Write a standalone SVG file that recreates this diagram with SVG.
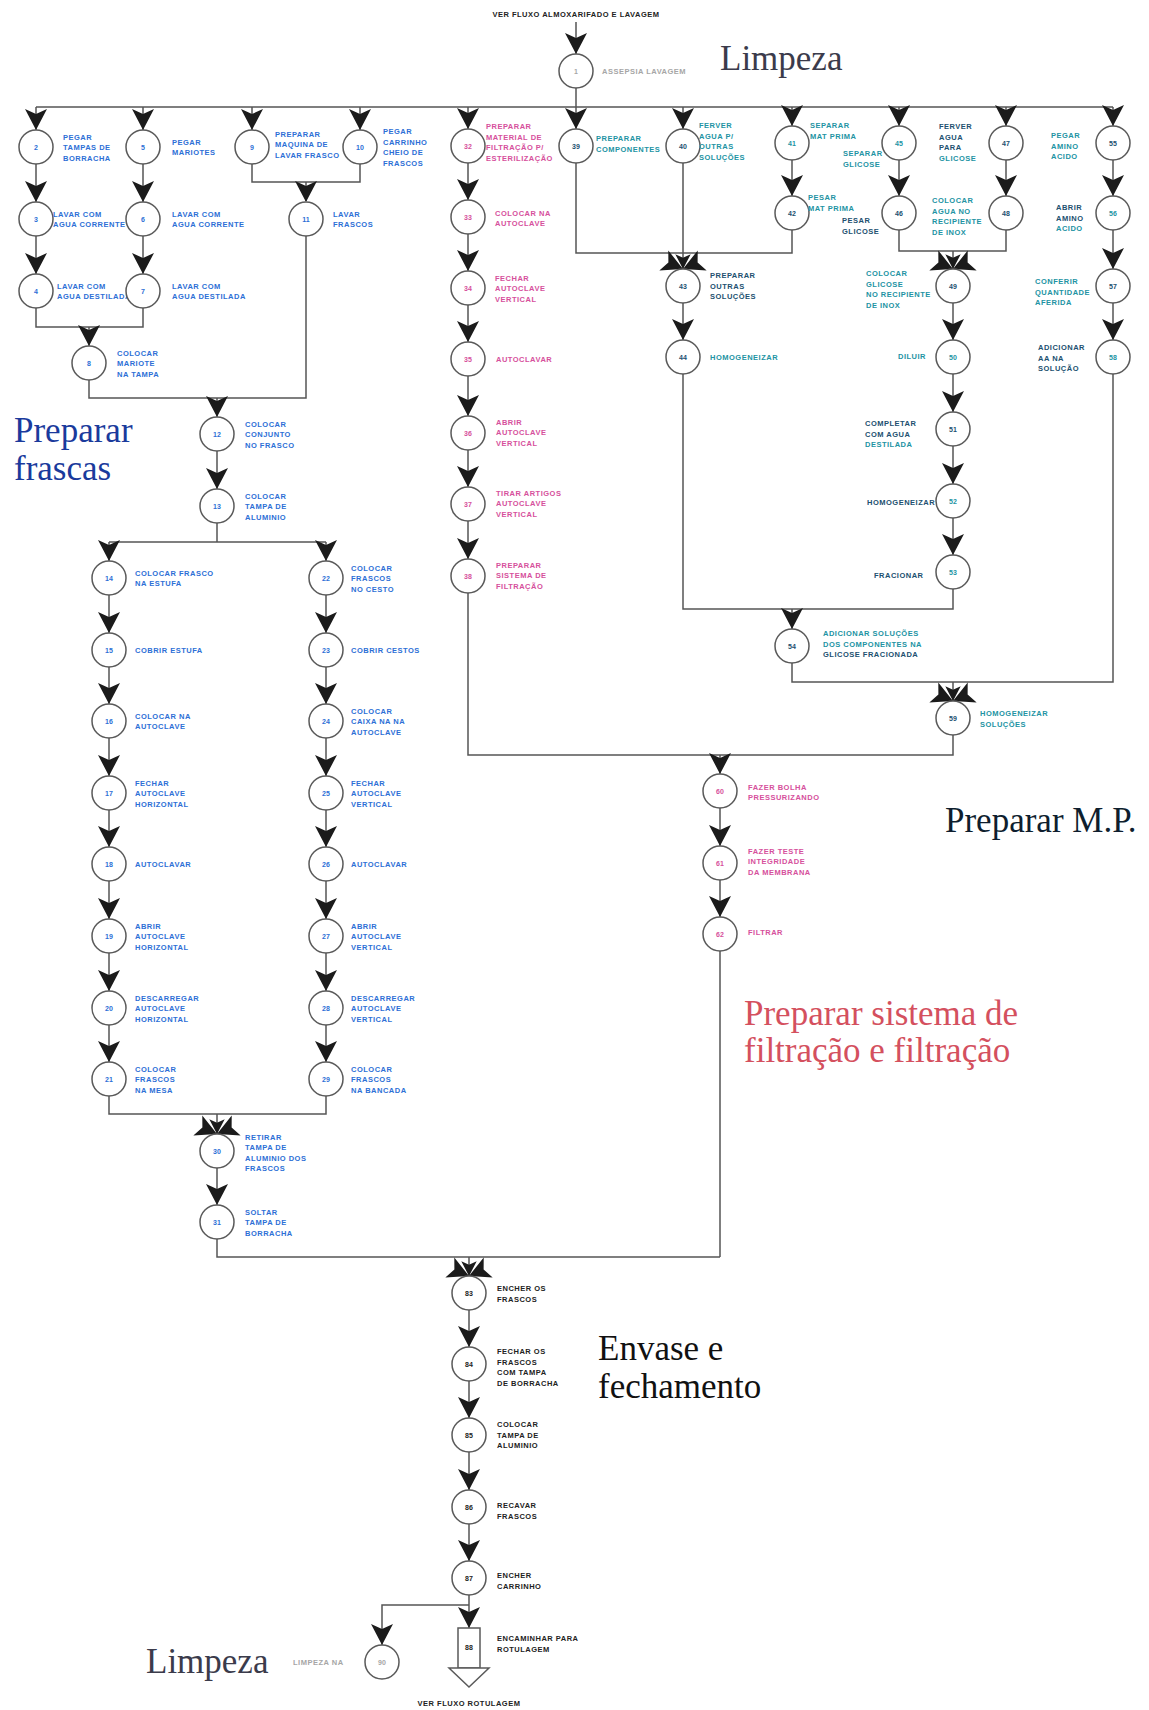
<svg xmlns="http://www.w3.org/2000/svg" xmlns:xlink="http://www.w3.org/1999/xlink" width="1149" height="1710" viewBox="0 0 1149 1710">
<style>
  .ln { fill: none; stroke: #565656; stroke-width: 1.5; }
  .nodes circle, .nodes rect, .nodes polygon { fill: #fff; stroke: #5a5a5a; stroke-width: 1.5; }
  .lb { font-family: "Liberation Sans", Arial, sans-serif; font-size: 7.5px; font-weight: bold; letter-spacing: 0.5px; }
  .num { font-family: "Liberation Sans", Arial, sans-serif; font-size: 7px; font-weight: bold; text-anchor: middle; }
  .ttl { font-family: "Liberation Serif", "Times New Roman", serif; font-size: 35px; }
  .b { fill: #2d6fd6; }
  .p { fill: #d6509c; }
  .t { fill: #2293a3; }
  .n { fill: #21506f; }
  .k { fill: #222; }
  .g { fill: #a6a6a6; }
</style>
<defs>
  <path id="ah" d="M0,0 L-11,-21 L0,-16 L11,-21 Z" fill="#1b1b1b"/>
  <!-- merge arrow: heads converging on one node -->
  <g id="bow">
    <use xlink:href="#ah" transform="rotate(-66)"/>
    <use xlink:href="#ah" transform="rotate(66)"/>
    <use xlink:href="#ah" transform="scale(0.7)"/>
  </g>
</defs>
<rect width="1149" height="1710" fill="#fff"/>

<!-- section titles -->
<g id="titles">
  <text class="ttl" x="720" y="70" fill="#3b3b4b">Limpeza</text>
  <text class="ttl" x="14" y="442" fill="#1a3a9c">Preparar</text>
  <text class="ttl" x="14" y="480" fill="#1a3a9c">frascas</text>
  <text class="ttl" x="945" y="832" fill="#0e1e2e">Preparar M.P.</text>
  <text class="ttl" x="744" y="1025" fill="#d4505e">Preparar sistema de</text>
  <text class="ttl" x="744" y="1062" fill="#d4505e">filtração e filtração</text>
  <text class="ttl" x="598" y="1360" fill="#111">Envase e</text>
  <text class="ttl" x="598" y="1398" fill="#111">fechamento</text>
  <text class="ttl" x="146" y="1673" fill="#3b3b4b">Limpeza</text>
  <text class="lb k" x="576" y="17" text-anchor="middle">VER FLUXO ALMOXARIFADO E LAVAGEM</text>
  <text class="lb k" x="469" y="1706" text-anchor="middle">VER FLUXO ROTULAGEM</text>
</g>

<!-- connectors -->
<g id="connectors">
  <path class="ln" d="M576,22 V54 M576,88 V107 M36,107 H1113
    M36,107 V130 M143,107 V130 M252,107 V130 M360,107 V130 M468,107 V129 M576,107 V129 M683,107 V129
    M792,107 V126 M899,107 V126 M1006,107 V126 M1113,107 V126
    M36,164 V202 M36,236 V274 M143,164 V202 M143,236 V274
    M36,308 V327 H143 V308 M89,327 V346
    M252,164 V182 H360 V164 M306,182 V201
    M89,380 V398 H306 V236 M217,398 V417 M217,451 V489 M217,523 V542
    M109,542 H326 M109,542 V561 M326,542 V561
    M109,595 V1062 M326,595 V1062
    M109,1096 V1114 H326 V1096 M217,1114 V1134 M217,1168 V1205
    M217,1239 V1257 H720 M469,1257 V1276
    M469,1310 V1561 M469,1595 V1628 M469,1605 H382 V1645
    M468,163 V559 M468,593 V755 H953 V735 M720,755 V774
    M720,808 V846 M720,880 V917 M720,951 V1257
    M576,163 V253 H792 V230 M683,163 V269 M683,303 V340
    M683,374 V609 H953 V589 M792,609 V629
    M792,663 V682 H1113 V374 M953,682 V701
    M792,160 V196 M899,160 V196 M899,230 V251 H1006 V229 M1006,160 V196 M953,251 V269
    M953,303 V555 M1113,160 V340"/>
  <!-- arrowheads -->
  <use xlink:href="#ah" x="576" y="54"/>
  <use xlink:href="#ah" x="36" y="130"/><use xlink:href="#ah" x="143" y="130"/><use xlink:href="#ah" x="252" y="130"/><use xlink:href="#ah" x="360" y="130"/>
  <use xlink:href="#ah" x="468" y="129"/><use xlink:href="#ah" x="576" y="129"/><use xlink:href="#ah" x="683" y="129"/>
  <use xlink:href="#ah" x="792" y="126"/><use xlink:href="#ah" x="899" y="126"/><use xlink:href="#ah" x="1006" y="126"/><use xlink:href="#ah" x="1113" y="126"/>
  <use xlink:href="#ah" x="36" y="202"/><use xlink:href="#ah" x="36" y="274"/><use xlink:href="#ah" x="143" y="202"/><use xlink:href="#ah" x="143" y="274"/>
  <use xlink:href="#ah" x="89" y="346"/><use xlink:href="#ah" x="306" y="202"/><use xlink:href="#ah" x="217" y="417"/><use xlink:href="#ah" x="217" y="489"/>
  <use xlink:href="#ah" x="109" y="561"/><use xlink:href="#ah" x="326" y="561"/>
  <use xlink:href="#ah" x="109" y="633"/><use xlink:href="#ah" x="109" y="704"/><use xlink:href="#ah" x="109" y="776"/><use xlink:href="#ah" x="109" y="847"/>
  <use xlink:href="#ah" x="109" y="919"/><use xlink:href="#ah" x="109" y="991"/><use xlink:href="#ah" x="109" y="1062"/>
  <use xlink:href="#ah" x="326" y="633"/><use xlink:href="#ah" x="326" y="704"/><use xlink:href="#ah" x="326" y="776"/><use xlink:href="#ah" x="326" y="847"/>
  <use xlink:href="#ah" x="326" y="919"/><use xlink:href="#ah" x="326" y="991"/><use xlink:href="#ah" x="326" y="1062"/>
  <use xlink:href="#bow" transform="translate(217,1134)"/>
  <use xlink:href="#ah" x="217" y="1205"/>
  <use xlink:href="#bow" transform="translate(469,1276)"/>
  <use xlink:href="#ah" x="469" y="1347"/><use xlink:href="#ah" x="469" y="1418"/><use xlink:href="#ah" x="469" y="1490"/><use xlink:href="#ah" x="469" y="1561"/>
  <use xlink:href="#ah" x="469" y="1628"/><use xlink:href="#ah" x="382" y="1645"/>
  <use xlink:href="#ah" x="468" y="200"/><use xlink:href="#ah" x="468" y="271"/><use xlink:href="#ah" x="468" y="342"/><use xlink:href="#ah" x="468" y="416"/>
  <use xlink:href="#ah" x="468" y="487"/><use xlink:href="#ah" x="468" y="559"/>
  <use xlink:href="#ah" x="720" y="774"/><use xlink:href="#ah" x="720" y="846"/><use xlink:href="#ah" x="720" y="917"/>
  <use xlink:href="#ah" x="792" y="196"/><use xlink:href="#ah" x="899" y="196"/><use xlink:href="#ah" x="1006" y="196"/>
  <use xlink:href="#bow" transform="translate(683,269)"/>
  <use xlink:href="#ah" x="683" y="340"/>
  <use xlink:href="#bow" transform="translate(953,269)"/>
  <use xlink:href="#ah" x="953" y="340"/><use xlink:href="#ah" x="953" y="412"/><use xlink:href="#ah" x="953" y="484"/><use xlink:href="#ah" x="953" y="555"/>
  <use xlink:href="#ah" x="792" y="629"/>
  <use xlink:href="#bow" transform="translate(953,701)"/>
  <use xlink:href="#ah" x="1113" y="196"/><use xlink:href="#ah" x="1113" y="269"/><use xlink:href="#ah" x="1113" y="340"/>
</g>

<g class="nodes">
  <!-- cleaning start -->
  <g id="n1"><circle cx="576" cy="71" r="17"/><text class="num g" x="576" y="73.5">1</text><text class="lb g" x="602" y="74">ASSEPSIA LAVAGEM</text></g>

  <!-- bottle preparation -->
  <g id="n2"><circle cx="36" cy="147" r="17"/><text class="num b" x="36" y="149.5">2</text><text class="lb b" x="63" y="139.5"><tspan>PEGAR</tspan><tspan x="63" dy="10.5">TAMPAS DE</tspan><tspan x="63" dy="10.5">BORRACHA</tspan></text></g>
  <g id="n3"><circle cx="36" cy="219" r="17"/><text class="num b" x="36" y="221.5">3</text><text class="lb b" x="53" y="216.75"><tspan>LAVAR COM</tspan><tspan x="53" dy="10.5">AGUA CORRENTE</tspan></text></g>
  <g id="n4"><circle cx="36" cy="291" r="17"/><text class="num b" x="36" y="293.5">4</text><text class="lb b" x="57" y="288.75"><tspan>LAVAR COM</tspan><tspan x="57" dy="10.5">AGUA DESTILADA</tspan></text></g>
  <g id="n5"><circle cx="143" cy="147" r="17"/><text class="num b" x="143" y="149.5">5</text><text class="lb b" x="172" y="144.75"><tspan>PEGAR</tspan><tspan x="172" dy="10.5">MARIOTES</tspan></text></g>
  <g id="n6"><circle cx="143" cy="219" r="17"/><text class="num b" x="143" y="221.5">6</text><text class="lb b" x="172" y="216.75"><tspan>LAVAR COM</tspan><tspan x="172" dy="10.5">AGUA CORRENTE</tspan></text></g>
  <g id="n7"><circle cx="143" cy="291" r="17"/><text class="num b" x="143" y="293.5">7</text><text class="lb b" x="172" y="288.75"><tspan>LAVAR COM</tspan><tspan x="172" dy="10.5">AGUA DESTILADA</tspan></text></g>
  <g id="n8"><circle cx="89" cy="363" r="17"/><text class="num b" x="89" y="365.5">8</text><text class="lb b" x="117" y="355.5"><tspan>COLOCAR</tspan><tspan x="117" dy="10.5">MARIOTE</tspan><tspan x="117" dy="10.5">NA TAMPA</tspan></text></g>
  <g id="n9"><circle cx="252" cy="147" r="17"/><text class="num b" x="252" y="149.5">9</text><text class="lb b" x="275" y="136.5"><tspan>PREPARAR</tspan><tspan x="275" dy="10.5">MAQUINA DE</tspan><tspan x="275" dy="10.5">LAVAR FRASCO</tspan></text></g>
  <g id="n10"><circle cx="360" cy="147" r="17"/><text class="num b" x="360" y="149.5">10</text><text class="lb b" x="383" y="134.25"><tspan>PEGAR</tspan><tspan x="383" dy="10.5">CARRINHO</tspan><tspan x="383" dy="10.5">CHEIO DE</tspan><tspan x="383" dy="10.5">FRASCOS</tspan></text></g>
  <g id="n11"><circle cx="306" cy="219" r="17"/><text class="num b" x="306" y="221.5">11</text><text class="lb b" x="333" y="216.75"><tspan>LAVAR</tspan><tspan x="333" dy="10.5">FRASCOS</tspan></text></g>
  <g id="n12"><circle cx="217" cy="434" r="17"/><text class="num b" x="217" y="436.5">12</text><text class="lb b" x="245" y="426.5"><tspan>COLOCAR</tspan><tspan x="245" dy="10.5">CONJUNTO</tspan><tspan x="245" dy="10.5">NO FRASCO</tspan></text></g>
  <g id="n13"><circle cx="217" cy="506" r="17"/><text class="num b" x="217" y="508.5">13</text><text class="lb b" x="245" y="498.5"><tspan>COLOCAR</tspan><tspan x="245" dy="10.5">TAMPA DE</tspan><tspan x="245" dy="10.5">ALUMINIO</tspan></text></g>

  <g id="n14"><circle cx="109" cy="578" r="17"/><text class="num b" x="109" y="580.5">14</text><text class="lb b" x="135" y="575.75"><tspan>COLOCAR FRASCO</tspan><tspan x="135" dy="10.5">NA ESTUFA</tspan></text></g>
  <g id="n15"><circle cx="109" cy="650" r="17"/><text class="num b" x="109" y="652.5">15</text><text class="lb b" x="135" y="653">COBRIR ESTUFA</text></g>
  <g id="n16"><circle cx="109" cy="721" r="17"/><text class="num b" x="109" y="723.5">16</text><text class="lb b" x="135" y="718.75"><tspan>COLOCAR NA</tspan><tspan x="135" dy="10.5">AUTOCLAVE</tspan></text></g>
  <g id="n17"><circle cx="109" cy="793" r="17"/><text class="num b" x="109" y="795.5">17</text><text class="lb b" x="135" y="785.5"><tspan>FECHAR</tspan><tspan x="135" dy="10.5">AUTOCLAVE</tspan><tspan x="135" dy="10.5">HORIZONTAL</tspan></text></g>
  <g id="n18"><circle cx="109" cy="864" r="17"/><text class="num b" x="109" y="866.5">18</text><text class="lb b" x="135" y="867">AUTOCLAVAR</text></g>
  <g id="n19"><circle cx="109" cy="936" r="17"/><text class="num b" x="109" y="938.5">19</text><text class="lb b" x="135" y="928.5"><tspan>ABRIR</tspan><tspan x="135" dy="10.5">AUTOCLAVE</tspan><tspan x="135" dy="10.5">HORIZONTAL</tspan></text></g>
  <g id="n20"><circle cx="109" cy="1008" r="17"/><text class="num b" x="109" y="1010.5">20</text><text class="lb b" x="135" y="1000.5"><tspan>DESCARREGAR</tspan><tspan x="135" dy="10.5">AUTOCLAVE</tspan><tspan x="135" dy="10.5">HORIZONTAL</tspan></text></g>
  <g id="n21"><circle cx="109" cy="1079" r="17"/><text class="num b" x="109" y="1081.5">21</text><text class="lb b" x="135" y="1071.5"><tspan>COLOCAR</tspan><tspan x="135" dy="10.5">FRASCOS</tspan><tspan x="135" dy="10.5">NA MESA</tspan></text></g>

  <g id="n22"><circle cx="326" cy="578" r="17"/><text class="num b" x="326" y="580.5">22</text><text class="lb b" x="351" y="570.5"><tspan>COLOCAR</tspan><tspan x="351" dy="10.5">FRASCOS</tspan><tspan x="351" dy="10.5">NO CESTO</tspan></text></g>
  <g id="n23"><circle cx="326" cy="650" r="17"/><text class="num b" x="326" y="652.5">23</text><text class="lb b" x="351" y="653">COBRIR CESTOS</text></g>
  <g id="n24"><circle cx="326" cy="721" r="17"/><text class="num b" x="326" y="723.5">24</text><text class="lb b" x="351" y="713.5"><tspan>COLOCAR</tspan><tspan x="351" dy="10.5">CAIXA NA NA</tspan><tspan x="351" dy="10.5">AUTOCLAVE</tspan></text></g>
  <g id="n25"><circle cx="326" cy="793" r="17"/><text class="num b" x="326" y="795.5">25</text><text class="lb b" x="351" y="785.5"><tspan>FECHAR</tspan><tspan x="351" dy="10.5">AUTOCLAVE</tspan><tspan x="351" dy="10.5">VERTICAL</tspan></text></g>
  <g id="n26"><circle cx="326" cy="864" r="17"/><text class="num b" x="326" y="866.5">26</text><text class="lb b" x="351" y="867">AUTOCLAVAR</text></g>
  <g id="n27"><circle cx="326" cy="936" r="17"/><text class="num b" x="326" y="938.5">27</text><text class="lb b" x="351" y="928.5"><tspan>ABRIR</tspan><tspan x="351" dy="10.5">AUTOCLAVE</tspan><tspan x="351" dy="10.5">VERTICAL</tspan></text></g>
  <g id="n28"><circle cx="326" cy="1008" r="17"/><text class="num b" x="326" y="1010.5">28</text><text class="lb b" x="351" y="1000.5"><tspan>DESCARREGAR</tspan><tspan x="351" dy="10.5">AUTOCLAVE</tspan><tspan x="351" dy="10.5">VERTICAL</tspan></text></g>
  <g id="n29"><circle cx="326" cy="1079" r="17"/><text class="num b" x="326" y="1081.5">29</text><text class="lb b" x="351" y="1071.5"><tspan>COLOCAR</tspan><tspan x="351" dy="10.5">FRASCOS</tspan><tspan x="351" dy="10.5">NA BANCADA</tspan></text></g>

  <g id="n30"><circle cx="217" cy="1151" r="17"/><text class="num b" x="217" y="1153.5">30</text><text class="lb b" x="245" y="1139.5"><tspan>RETIRAR</tspan><tspan x="245" dy="10.5">TAMPA DE</tspan><tspan x="245" dy="10.5">ALUMINIO DOS</tspan><tspan x="245" dy="10.5">FRASCOS</tspan></text></g>
  <g id="n31"><circle cx="217" cy="1222" r="17"/><text class="num b" x="217" y="1224.5">31</text><text class="lb b" x="245" y="1214.5"><tspan>SOLTAR</tspan><tspan x="245" dy="10.5">TAMPA DE</tspan><tspan x="245" dy="10.5">BORRACHA</tspan></text></g>

  <!-- filter system preparation -->
  <g id="n32"><circle cx="468" cy="146" r="17"/><text class="num p" x="468" y="148.5">32</text><text class="lb p" x="486" y="129"><tspan>PREPARAR</tspan><tspan x="486" dy="10.5">MATERIAL DE</tspan><tspan x="486" dy="10.5">FILTRAÇÃO P/</tspan><tspan x="486" dy="10.5">ESTERILIZAÇÃO</tspan></text></g>
  <g id="n33"><circle cx="468" cy="217" r="17"/><text class="num p" x="468" y="219.5">33</text><text class="lb p" x="495" y="215.5"><tspan>COLOCAR NA</tspan><tspan x="495" dy="10.5">AUTOCLAVE</tspan></text></g>
  <g id="n34"><circle cx="468" cy="288" r="17"/><text class="num p" x="468" y="290.5">34</text><text class="lb p" x="495" y="280.5"><tspan>FECHAR</tspan><tspan x="495" dy="10.5">AUTOCLAVE</tspan><tspan x="495" dy="10.5">VERTICAL</tspan></text></g>
  <g id="n35"><circle cx="468" cy="359" r="17"/><text class="num p" x="468" y="361.5">35</text><text class="lb p" x="496" y="362">AUTOCLAVAR</text></g>
  <g id="n36"><circle cx="468" cy="433" r="17"/><text class="num p" x="468" y="435.5">36</text><text class="lb p" x="496" y="424.5"><tspan>ABRIR</tspan><tspan x="496" dy="10.5">AUTOCLAVE</tspan><tspan x="496" dy="10.5">VERTICAL</tspan></text></g>
  <g id="n37"><circle cx="468" cy="504" r="17"/><text class="num p" x="468" y="506.5">37</text><text class="lb p" x="496" y="495.5"><tspan>TIRAR ARTIGOS</tspan><tspan x="496" dy="10.5">AUTOCLAVE</tspan><tspan x="496" dy="10.5">VERTICAL</tspan></text></g>
  <g id="n38"><circle cx="468" cy="576" r="17"/><text class="num p" x="468" y="578.5">38</text><text class="lb p" x="496" y="567.5"><tspan>PREPARAR</tspan><tspan x="496" dy="10.5">SISTEMA DE</tspan><tspan x="496" dy="10.5">FILTRAÇÃO</tspan></text></g>
  <g id="n60"><circle cx="720" cy="791" r="17"/><text class="num p" x="720" y="793.5">60</text><text class="lb p" x="748" y="789.5"><tspan>FAZER BOLHA</tspan><tspan x="748" dy="10.5">PRESSURIZANDO</tspan></text></g>
  <g id="n61"><circle cx="720" cy="863" r="17"/><text class="num p" x="720" y="865.5">61</text><text class="lb p" x="748" y="853.5"><tspan>FAZER TESTE</tspan><tspan x="748" dy="10.5">INTEGRIDADE</tspan><tspan x="748" dy="10.5">DA MEMBRANA</tspan></text></g>
  <g id="n62"><circle cx="720" cy="934" r="17"/><text class="num p" x="720" y="936.5">62</text><text class="lb p" x="748" y="935">FILTRAR</text></g>

  <!-- raw material preparation -->
  <g id="n39"><circle cx="576" cy="146" r="17"/><text class="num n" x="576" y="148.5">39</text><text class="lb t" x="596" y="141"><tspan>PREPARAR</tspan><tspan x="596" dy="10.5">COMPONENTES</tspan></text></g>
  <g id="n40"><circle cx="683" cy="146" r="17"/><text class="num n" x="683" y="148.5">40</text><text class="lb t" x="699" y="128"><tspan>FERVER</tspan><tspan x="699" dy="10.5">AGUA P/</tspan><tspan x="699" dy="10.5">OUTRAS</tspan><tspan x="699" dy="10.5">SOLUÇÕES</tspan></text></g>
  <g id="n41"><circle cx="792" cy="143" r="17"/><text class="num t" x="792" y="145.5">41</text><text class="lb t" x="810" y="128"><tspan>SEPARAR</tspan><tspan x="810" dy="10.5">MAT PRIMA</tspan></text></g>
  <g id="n42"><circle cx="792" cy="213" r="17"/><text class="num n" x="792" y="215.5">42</text><text class="lb t" x="808" y="200"><tspan>PESAR</tspan><tspan x="808" dy="10.5">MAT PRIMA</tspan></text></g>
  <g id="n43"><circle cx="683" cy="286" r="17"/><text class="num n" x="683" y="288.5">43</text><text class="lb n" x="710" y="278"><tspan>PREPARAR</tspan><tspan x="710" dy="10.5">OUTRAS</tspan><tspan x="710" dy="10.5">SOLUÇÕES</tspan></text></g>
  <g id="n44"><circle cx="683" cy="357" r="17"/><text class="num n" x="683" y="359.5">44</text><text class="lb t" x="710" y="360">HOMOGENEIZAR</text></g>
  <g id="n45"><circle cx="899" cy="143" r="17"/><text class="num t" x="899" y="145.5">45</text><text class="lb t" x="843" y="156"><tspan>SEPARAR</tspan><tspan x="843" dy="10.5">GLICOSE</tspan></text></g>
  <g id="n46"><circle cx="899" cy="213" r="17"/><text class="num n" x="899" y="215.5">46</text><text class="lb n" x="842" y="223"><tspan>PESAR</tspan><tspan x="842" dy="10.5">GLICOSE</tspan></text></g>
  <g id="n47"><circle cx="1006" cy="143" r="17"/><text class="num n" x="1006" y="145.5">47</text><text class="lb n" x="939" y="129"><tspan>FERVER</tspan><tspan x="939" dy="10.5">AGUA</tspan><tspan x="939" dy="10.5">PARA</tspan><tspan x="939" dy="10.5" class="t">GLICOSE</tspan></text></g>
  <g id="n48"><circle cx="1006" cy="213" r="17"/><text class="num n" x="1006" y="215.5">48</text><text class="lb t" x="932" y="203"><tspan>COLOCAR</tspan><tspan x="932" dy="10.5">AGUA NO</tspan><tspan x="932" dy="10.5">RECIPIENTE</tspan><tspan x="932" dy="10.5">DE INOX</tspan></text></g>
  <g id="n49"><circle cx="953" cy="286" r="17"/><text class="num n" x="953" y="288.5">49</text><text class="lb t" x="866" y="276"><tspan>COLOCAR</tspan><tspan x="866" dy="10.5">GLICOSE</tspan><tspan x="866" dy="10.5">NO RECIPIENTE</tspan><tspan x="866" dy="10.5">DE INOX</tspan></text></g>
  <g id="n50"><circle cx="953" cy="357" r="17"/><text class="num t" x="953" y="359.5">50</text><text class="lb t" x="898" y="359">DILUIR</text></g>
  <g id="n51"><circle cx="953" cy="429" r="17"/><text class="num n" x="953" y="431.5">51</text><text class="lb n" x="865" y="426"><tspan>COMPLETAR</tspan><tspan x="865" dy="10.5">COM AGUA</tspan><tspan x="865" dy="10.5" class="t">DESTILADA</tspan></text></g>
  <g id="n52"><circle cx="953" cy="501" r="17"/><text class="num t" x="953" y="503.5">52</text><text class="lb n" x="867" y="505">HOMOGENEIZAR</text></g>
  <g id="n53"><circle cx="953" cy="572" r="17"/><text class="num t" x="953" y="574.5">53</text><text class="lb n" x="874" y="578">FRACIONAR</text></g>
  <g id="n54"><circle cx="792" cy="646" r="17"/><text class="num n" x="792" y="648.5">54</text><text class="lb t" x="823" y="636"><tspan>ADICIONAR SOLUÇÕES</tspan><tspan x="823" dy="10.5">DOS COMPONENTES NA</tspan><tspan x="823" dy="10.5" class="n">GLICOSE FRACIONADA</tspan></text></g>
  <g id="n55"><circle cx="1113" cy="143" r="17"/><text class="num n" x="1113" y="145.5">55</text><text class="lb t" x="1051" y="138"><tspan>PEGAR</tspan><tspan x="1051" dy="10.5">AMINO</tspan><tspan x="1051" dy="10.5">ACIDO</tspan></text></g>
  <g id="n56"><circle cx="1113" cy="213" r="17"/><text class="num t" x="1113" y="215.5">56</text><text class="lb n" x="1056" y="210"><tspan>ABRIR</tspan><tspan x="1056" dy="10.5">AMINO</tspan><tspan x="1056" dy="10.5" class="t">ACIDO</tspan></text></g>
  <g id="n57"><circle cx="1113" cy="286" r="17"/><text class="num n" x="1113" y="288.5">57</text><text class="lb t" x="1035" y="284"><tspan>CONFERIR</tspan><tspan x="1035" dy="10.5">QUANTIDADE</tspan><tspan x="1035" dy="10.5">AFERIDA</tspan></text></g>
  <g id="n58"><circle cx="1113" cy="357" r="17"/><text class="num t" x="1113" y="359.5">58</text><text class="lb n" x="1038" y="350"><tspan>ADICIONAR</tspan><tspan x="1038" dy="10.5">AA NA</tspan><tspan x="1038" dy="10.5">SOLUÇÃO</tspan></text></g>
  <g id="n59"><circle cx="953" cy="718" r="17"/><text class="num n" x="953" y="720.5">59</text><text class="lb t" x="980" y="716"><tspan>HOMOGENEIZAR</tspan><tspan x="980" dy="10.5">SOLUÇÕES</tspan></text></g>

  <!-- filling and closing -->
  <g id="n83"><circle cx="469" cy="1293" r="17"/><text class="num k" x="469" y="1295.5">83</text><text class="lb k" x="497" y="1291"><tspan>ENCHER OS</tspan><tspan x="497" dy="10.5">FRASCOS</tspan></text></g>
  <g id="n84"><circle cx="469" cy="1364" r="17"/><text class="num k" x="469" y="1366.5">84</text><text class="lb k" x="497" y="1354"><tspan>FECHAR OS</tspan><tspan x="497" dy="10.5">FRASCOS</tspan><tspan x="497" dy="10.5">COM TAMPA</tspan><tspan x="497" dy="10.5">DE BORRACHA</tspan></text></g>
  <g id="n85"><circle cx="469" cy="1435" r="17"/><text class="num k" x="469" y="1437.5">85</text><text class="lb k" x="497" y="1427"><tspan>COLOCAR</tspan><tspan x="497" dy="10.5">TAMPA DE</tspan><tspan x="497" dy="10.5">ALUMINIO</tspan></text></g>
  <g id="n86"><circle cx="469" cy="1507" r="17"/><text class="num k" x="469" y="1509.5">86</text><text class="lb k" x="497" y="1508"><tspan>RECAVAR</tspan><tspan x="497" dy="10.5">FRASCOS</tspan></text></g>
  <g id="n87"><circle cx="469" cy="1578" r="17"/><text class="num k" x="469" y="1580.5">87</text><text class="lb k" x="497" y="1578"><tspan>ENCHER</tspan><tspan x="497" dy="10.5">CARRINHO</tspan></text></g>
  <g id="n88"><rect x="458" y="1628" width="22" height="40"/><polygon points="449,1668 489,1668 469,1687"/><text class="num k" x="469" y="1650">88</text><text class="lb k" x="497" y="1641"><tspan>ENCAMINHAR PARA</tspan><tspan x="497" dy="10.5">ROTULAGEM</tspan></text></g>
  <g id="n90"><circle cx="382" cy="1662" r="17"/><text class="num g" x="382" y="1664.5">90</text><text class="lb g" x="293" y="1665">LIMPEZA NA</text></g>
</g>
</svg>
